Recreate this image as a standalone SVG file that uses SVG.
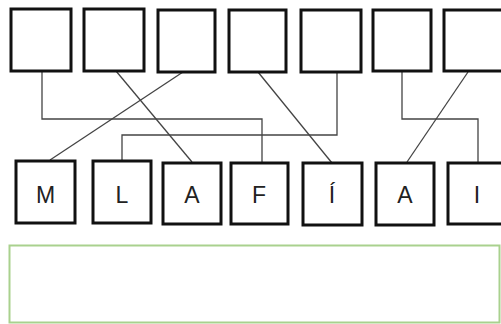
<svg xmlns="http://www.w3.org/2000/svg" width="501" height="324" viewBox="0 0 501 324">
<style>
.box{fill:#fff;stroke:#111;stroke-width:3}
.lbl{font-family:"Liberation Sans",Arial,sans-serif;font-size:23px;fill:#222;text-anchor:middle}
.con{fill:none;stroke:#444;stroke-width:1.3}
</style>
<rect width="501" height="324" fill="#fff"/>
<g id="connectors">
<polyline class="con" points="42,71 42,119 262,119 262,163"/>
<line class="con" x1="116" y1="71" x2="192" y2="162"/>
<line class="con" x1="183" y1="72" x2="50" y2="160"/>
<polyline class="con" points="122,161 122,135 337,135 337,72"/>
<line class="con" x1="258" y1="72" x2="332" y2="163"/>
<polyline class="con" points="402,72 402,119 478,119 478,167"/>
<line class="con" x1="468" y1="72" x2="407" y2="162"/>
</g>
<g id="t1"><rect class="box" x="11" y="9" width="60" height="62"/></g>
<g id="t2"><rect class="box" x="84" y="9" width="60" height="62"/></g>
<g id="t3"><rect class="box" x="158" y="10" width="57" height="62"/></g>
<g id="t4"><rect class="box" x="229" y="10" width="57" height="62"/></g>
<g id="t5"><rect class="box" x="301" y="10" width="60" height="62"/></g>
<g id="t6"><rect class="box" x="373" y="10" width="58" height="61"/></g>
<g id="t7"><rect class="box" x="444" y="10" width="60" height="61"/></g>
<g id="bM"><rect class="box" x="16" y="161" width="59" height="62"/><text class="lbl" x="45.5" y="203">M</text></g>
<g id="bL"><rect class="box" x="93" y="161" width="58" height="62"/><text class="lbl" x="122" y="203">L</text></g>
<g id="bA"><rect class="box" x="163" y="163" width="58" height="61"/><text class="lbl" x="192" y="203">A</text></g>
<g id="bF"><rect class="box" x="231" y="163" width="57" height="61"/><text class="lbl" x="259" y="203">F</text></g>
<g id="bI1"><rect class="box" x="303" y="163" width="59" height="62"/><text class="lbl" x="332" y="203">Í</text></g>
<g id="bA2"><rect class="box" x="376" y="163" width="58" height="62"/><text class="lbl" x="405" y="203">A</text></g>
<g id="bI2"><rect class="box" x="448" y="163" width="60" height="61"/><text class="lbl" x="477" y="203">I</text></g>
<g id="answer"><rect x="9.5" y="245.5" width="490" height="77" fill="#fff" stroke="#a9d18e" stroke-width="2"/></g>
</svg>
